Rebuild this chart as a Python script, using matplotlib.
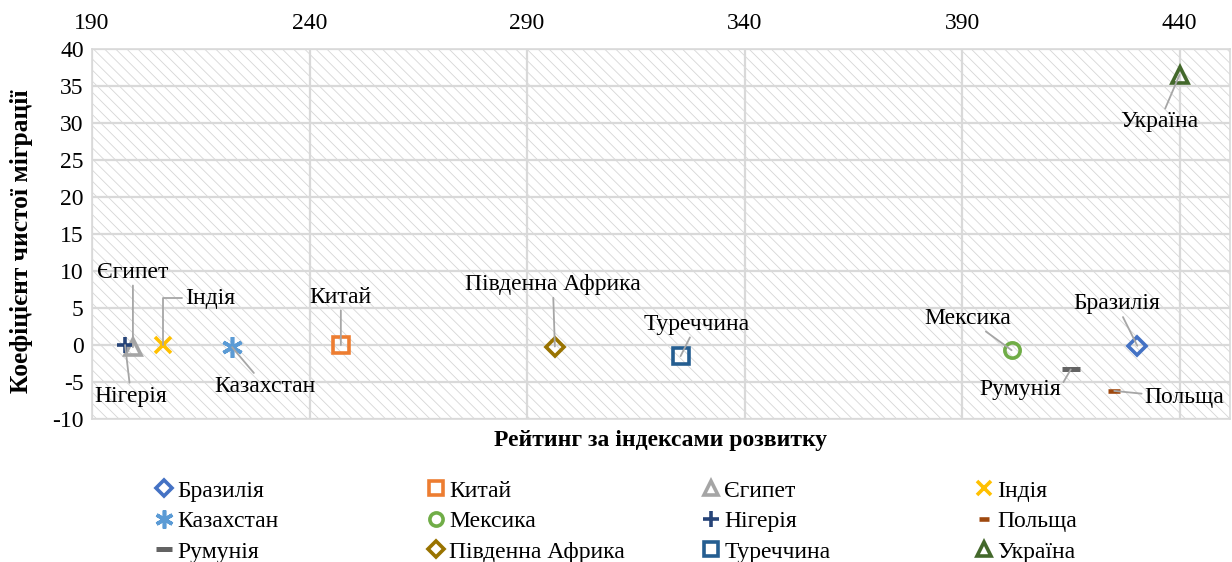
import matplotlib.pyplot as plt
from matplotlib.patches import Rectangle
from matplotlib.lines import Line2D

plt.rcParams['font.family'] = ['Liberation Serif', 'DejaVu Serif']
plt.rcParams['axes.unicode_minus'] = False
plt.rcParams['hatch.linewidth'] = 0.6
plt.rcParams['hatch.color'] = '#d6d6d6'

# data: rating by development indices vs net migration rate
countries = ['Бразилія', 'Китай', 'Єгипет', 'Індія', 'Казахстан', 'Мексика',
             'Нігерія', 'Польща', 'Румунія', 'Південна Африка', 'Туреччина', 'Україна']
rating = [430.3, 247.2, 199.4, 206.3, 222.2, 401.4, 197.6, 425.0, 415.0, 296.4, 325.3, 440.0]
migration = [-0.1, 0.0, -0.3, 0.0, -0.3, -0.7, 0.0, -6.2, -3.3, -0.2, -1.5, 36.5]

colors = ['#4472C4', '#ED7D31', '#A5A5A5', '#FFC000', '#5B9BD5', '#70AD47',
          '#264478', '#9E480E', '#636363', '#997300', '#255E91', '#43682B']
markers = ['D', 's', '^', 'x', (6, 2, 0), 'o', '+', '_', '_', 'D', 's', '^']
sizes = [9, 11, 11, 12, 15, 11, 12, 8, 13, 9, 11, 11]
leg_sizes = [8, 9.5, 9.5, 10, 13, 9.5, 11, 7, 11, 8, 9.5, 9.5]
widths = [2.6, 2.6, 2.6, 2.6, 2.6, 2.6, 2.6, 3.3, 3.6, 2.6, 2.6, 2.6]
filled = [False, False, False, True, True, False, True, True, True, False, False, False]
# label offsets in pixels (dx, dy up) from the marker
offsets = [(-21, 42), (0, 48), (0, 75), (47, 47), (33, -39), (-44, 32),
           (6, -51), (70, -7), (-51, -20), (-2, 62), (16, 32), (-20, -47)]
elbow = [None, None, None, 'angle,angleA=0,angleB=90,rad=0', None, None,
         None, None, 'angle,angleA=0,angleB=60,rad=0', None, None, None]

fig = plt.figure(figsize=(12.32, 5.62), dpi=100)
ax = fig.add_axes([0.0747, 0.2544, 0.9233, 0.6584])
ax.set_xlim(190, 451.5)
ax.set_ylim(-10, 40)

ax.add_patch(Rectangle((0, 0), 1, 1, transform=ax.transAxes, facecolor='white',
                       edgecolor='#d6d6d6', hatch='\\\\\\', linewidth=0, zorder=0))

ax.set_xticks(range(190, 441, 50))
ax.set_yticks(range(-10, 41, 5))
ax.xaxis.tick_top()
ax.tick_params(length=0, labelsize=17)
ax.tick_params(axis='x', pad=10.5)
ax.tick_params(axis='y', pad=6)
ax.grid(True, color='#d9d9d9', linewidth=1.6, zorder=1)
ax.set_axisbelow(True)
for s in ax.spines.values():
    s.set_color('#d9d9d9')
    s.set_linewidth(1.2)

handles = []
for i, name in enumerate(countries):
    kw = dict(marker=markers[i], linestyle='none', markersize=sizes[i],
              markeredgewidth=widths[i])
    if filled[i]:
        kw.update(color=colors[i])
    else:
        kw.update(markerfacecolor='none', markeredgecolor=colors[i])
    ax.plot([rating[i]], [migration[i]], zorder=5, clip_on=False, **kw)
    lk = dict(kw)
    lk['markersize'] = leg_sizes[i]
    handles.append(Line2D([], [], **lk))
    dx, dy = offsets[i]
    ap = dict(arrowstyle='-', color='#a6a6a6', lw=1.3, shrinkA=0, shrinkB=0)
    if elbow[i]:
        ap['connectionstyle'] = elbow[i]
    ax.annotate(name, xy=(rating[i], migration[i]), xytext=(dx * 0.72, dy * 0.72),
                textcoords='offset points', ha='center', va='center', fontsize=17,
                arrowprops=ap, zorder=6)

ax.set_xlabel('Рейтинг за індексами розвитку', fontsize=17, fontweight='bold', labelpad=8)
ax.set_ylabel('Коефіцієнт чистої міграції', fontsize=18.4, fontweight='bold')
ax.yaxis.set_label_coords(-0.0516, 0.48)

col_x = [156, 428, 703, 976]
for c in range(4):
    idx = [c, c + 4, c + 8]
    leg = fig.legend([handles[j] for j in idx], [countries[j] for j in idx],
                     loc='upper left', bbox_to_anchor=(col_x[c] / 1232, 1 - 480 / 562),
                     frameon=False, fontsize=17, handlelength=0.7, handletextpad=0.2,
                     borderpad=0, borderaxespad=0, labelspacing=0.38)

fig.savefig('out.png', dpi=100)
